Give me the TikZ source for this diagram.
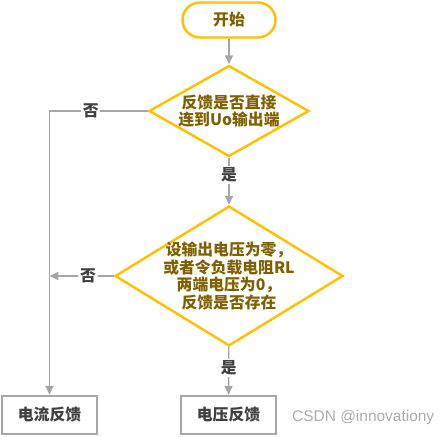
\documentclass[tikz,border=0pt]{standalone}
\usepackage{fontspec}
\setmainfont{Noto Sans CJK SC}
\newfontfamily\markfont{Liberation Sans}
\usetikzlibrary{shapes.geometric,arrows.meta}

\definecolor{gold}{HTML}{FFC000}
\definecolor{goldtext}{HTML}{7F6000}
\definecolor{linegray}{HTML}{A6A6A6}
\definecolor{labelgray}{HTML}{404040}

\begin{document}
\begin{tikzpicture}[x=0.02cm, y=-0.02cm,
    every node/.style={font=\fontsize{9pt}{10pt}\selectfont\bfseries},
    terminal/.style={draw=gold, line width=1.4pt, rectangle, rounded corners=0.35cm,
        minimum width=1.86cm, minimum height=0.7cm, text=goldtext},
    decision/.style={draw=gold, line width=1.4pt, diamond, align=center,
        inner sep=-4pt, text=goldtext},
    result/.style={draw=linegray, line width=1.4pt, rectangle,
        minimum width=1.9cm, minimum height=0.76cm, text=labelgray},
    flow/.style={draw=linegray, line width=0.75pt, -{Triangle[length=5pt,width=4.5pt]}},
    answer/.style={fill=white, text=labelgray, inner sep=1pt}]
    \useasboundingbox (0,0) rectangle (446,436);

    \node[terminal] (start) at (229,20) {开始};
    \node[decision, aspect=1.76, minimum width=3.2cm, minimum height=1.82cm]
        (direct) at (229,111) {反馈是否直接\\连到Uo输出端};
    \node[decision, aspect=1.63, minimum width=4.56cm, minimum height=2.8cm]
        (zero) at (229,276)
        {设输出电压为零，\\或者令负载电阻RL\\两端电压为0，\\反馈是否存在};
    \node[result] (current) at (49.5,415) {电流反馈};
    \node[result] (voltage) at (228.5,415) {电压反馈};
    \node[anchor=west, text=black!33, font=\markfont\fontsize{8.8pt}{10pt}\selectfont]
        (mark) at (286,417) {CSDN @innovationy};

    \coordinate (join) at (current.north |- zero.west);

    \draw[flow] (start) -- (direct);
    \draw[flow] (direct) -- node[answer, pos=0.37] {是} (zero);
    \draw[flow] (direct.west) -| node[answer, pos=0.29] {否} (current.north);
    \draw[flow] (zero.west) -- node[answer, pos=0.4] {否} (join);
    \draw[flow] (zero) -- node[answer, pos=0.44] {是} (voltage);
\end{tikzpicture}
\end{document}
